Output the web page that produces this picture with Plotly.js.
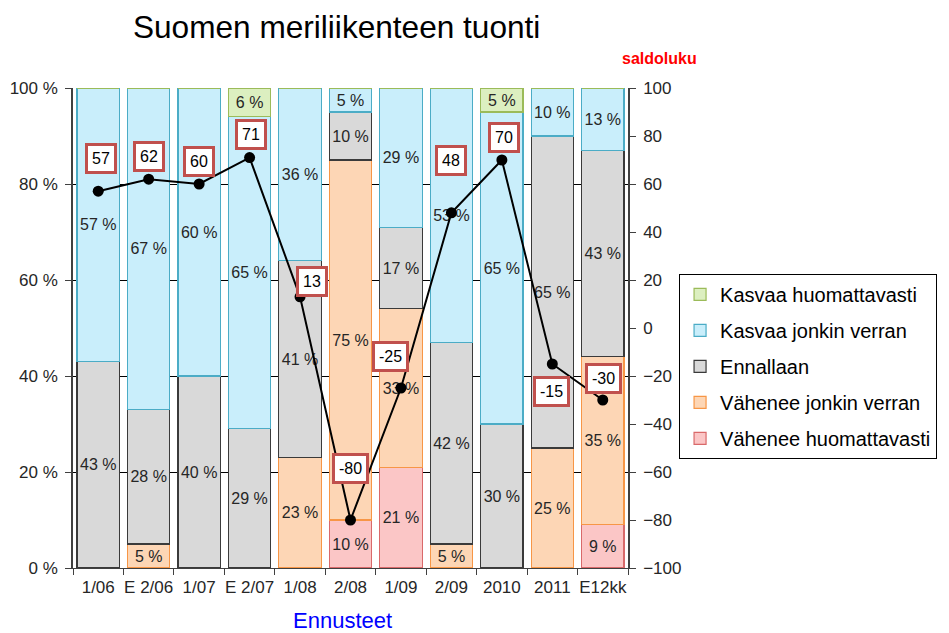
<!DOCTYPE html>
<html>
<head>
<meta charset="utf-8">
<script src="https://cdn.plot.ly/plotly-3.0.1.min.js"></script>
<style>
  html, body { margin: 0; padding: 0; background: #ffffff; }
  #chart { width: 949px; height: 633px; }
</style>
</head>
<body>
<div id="chart"></div>
<script>
// ---- Data ----
const categories = ["1/06", "E 2/06", "1/07", "E 2/07", "1/08", "2/08", "1/09", "2/09", "2010", "2011", "E12kk"];

// Shares in % (bottom to top of each bar)
const vaheneeHuomattavasti = [0, 0, 0, 0, 0, 10, 21, 0, 0, 0, 9];
const vaheneeJonkinVerran  = [0, 5, 0, 0, 23, 75, 33, 5, 0, 25, 35];
const ennallaan            = [43, 28, 40, 29, 41, 10, 17, 42, 30, 65, 43];
const kasvaaJonkinVerran   = [57, 67, 60, 65, 36, 5, 29, 53, 65, 10, 13];
const kasvaaHuomattavasti  = [0, 0, 0, 6, 0, 0, 0, 0, 5, 0, 0];

// Balance figure (saldoluku), right axis
const saldoluku = [57, 62, 60, 71, 13, -80, -25, 48, 70, -15, -30];

const leftTicks = [0, 20, 40, 60, 80, 100];
const rightTicks = [-100, -80, -60, -40, -20, 0, 20, 40, 60, 80, 100];

// ---- Styling ----
const series = [
  { name: "Vähenee huomattavasti", values: vaheneeHuomattavasti, fill: "#fbc6c6", line: "#d9696a" },
  { name: "Vähenee jonkin verran", values: vaheneeJonkinVerran,  fill: "#fdd6b5", line: "#f79646" },
  { name: "Ennallaan",             values: ennallaan,            fill: "#d9d9d9", line: "#3a3a3a" },
  { name: "Kasvaa jonkin verran",  values: kasvaaJonkinVerran,   fill: "#c9eefb", line: "#4bacc6" },
  { name: "Kasvaa huomattavasti",  values: kasvaaHuomattavasti,  fill: "#dcefc0", line: "#9bbb59" }
];

const traces = series.map((s, i) => ({
  type: "bar",
  name: s.name,
  x: categories,
  y: s.values,
  text: s.values.map(v => v > 0 ? v + " %" : ""),
  textposition: "inside",
  insidetextanchor: "middle",
  textangle: 0,
  constraintext: "none",
  insidetextfont: { family: "Liberation Sans, Arial, sans-serif", size: 16, color: "#262626" },
  marker: { color: s.fill, line: { color: s.line, width: 1.2 } },
  legendgroup: "g" + i,
  legendrank: 100 - i * 10,
  hoverinfo: "x+y+name"
}));

traces.push({
  type: "scatter",
  mode: "lines+markers",
  name: "saldoluku",
  x: categories,
  y: saldoluku,
  yaxis: "y2",
  line: { color: "#000000", width: 2 },
  marker: { color: "#000000", size: 11 },
  showlegend: false
});

// label offsets (pixels) for the balance-figure boxes, placed like the reference
const labelShift = [
  [3, 33], [0, 23], [0, 23], [1, 23], [12, 15], [0, 52],
  [-10, 32], [0, 52], [2, 23], [-1, -27], [1, 22]
];

const annotations = saldoluku.map((v, i) => ({
  x: i,
  y: v,
  xref: "x",
  yref: "y2",
  text: String(v),
  showarrow: false,
  xshift: labelShift[i][0],
  yshift: labelShift[i][1],
  bgcolor: "#ffffff",
  bordercolor: "#c0504d",
  borderwidth: 3,
  borderpad: 4,
  font: { family: "Liberation Sans, Arial, sans-serif", size: 16, color: "#000000" }
}));

annotations.push({
  text: "<b>saldoluku</b>",
  xref: "paper", yref: "paper",
  x: 1.0, y: 1.0,
  xanchor: "left", yanchor: "bottom",
  xshift: -8, yshift: 19,
  showarrow: false,
  font: { family: "Liberation Sans, Arial, sans-serif", size: 16, color: "#ff0000" }
});

// x-axis caption, placed slightly left of the plot centre as in the reference
annotations.push({
  text: "Ennusteet",
  xref: "paper", yref: "paper",
  x: 0.486, y: -0.11,
  xanchor: "center", yanchor: "middle",
  showarrow: false,
  font: { family: "Liberation Sans, Arial, sans-serif", size: 22, color: "#0000ff" }
});

const layout = {
  width: 949,
  height: 633,
  paper_bgcolor: "#ffffff",
  plot_bgcolor: "#ffffff",
  margin: { l: 73, r: 321, t: 88, b: 65 },
  barmode: "stack",
  bargap: 0.16,
  font: { family: "Liberation Sans, Arial, sans-serif", color: "#262626" },
  title: {
    text: "Suomen meriliikenteen tuonti",
    x: 0.108, xref: "paper", xanchor: "left",
    y: 0.957, yref: "container", yanchor: "middle",
    font: { family: "Liberation Sans, Arial, sans-serif", size: 31.6, color: "#000000" }
  },
  xaxis: {
    type: "category",
    range: [-0.5, 10.5],
    autorange: false,
    showline: true,
    linecolor: "#404040",
    linewidth: 1,
    ticks: "outside",
    tickson: "boundaries",
    ticklen: 6,
    tickcolor: "#404040",
    ticklabelstandoff: 4,
    showgrid: false,
    tickangle: 0,
    tickfont: { size: 17, color: "#262626" }
  },
  yaxis: {
    range: [0, 100],
    autorange: false,
    tickvals: leftTicks,
    ticktext: leftTicks.map(t => t + " %"),
    ticks: "outside",
    ticklen: 6,
    tickcolor: "#404040",
    ticklabelstandoff: 4,
    showline: true,
    linecolor: "#404040",
    linewidth: 1.5,
    showgrid: true,
    gridcolor: "#000000",
    gridwidth: 1,
    zeroline: false,
    tickfont: { size: 17, color: "#262626" }
  },
  yaxis2: {
    overlaying: "y",
    side: "right",
    range: [-100, 100],
    autorange: false,
    tickvals: rightTicks,
    ticks: "outside",
    ticklen: 6,
    tickcolor: "#404040",
    ticklabelstandoff: 4,
    showline: true,
    linecolor: "#404040",
    linewidth: 1.5,
    showgrid: false,
    zeroline: false,
    tickfont: { size: 17, color: "#262626" }
  },
  legend: {
    x: 1.092, xanchor: "left",
    y: 0.42, yanchor: "middle",
    traceorder: "grouped",
    tracegroupgap: 7,
    bordercolor: "#000000",
    borderwidth: 1,
    bgcolor: "#ffffff",
    font: { size: 20, color: "#000000" }
  },
  annotations: annotations
};

Plotly.newPlot("chart", traces, layout, { displayModeBar: false, responsive: false });
</script>
</body>
</html>
